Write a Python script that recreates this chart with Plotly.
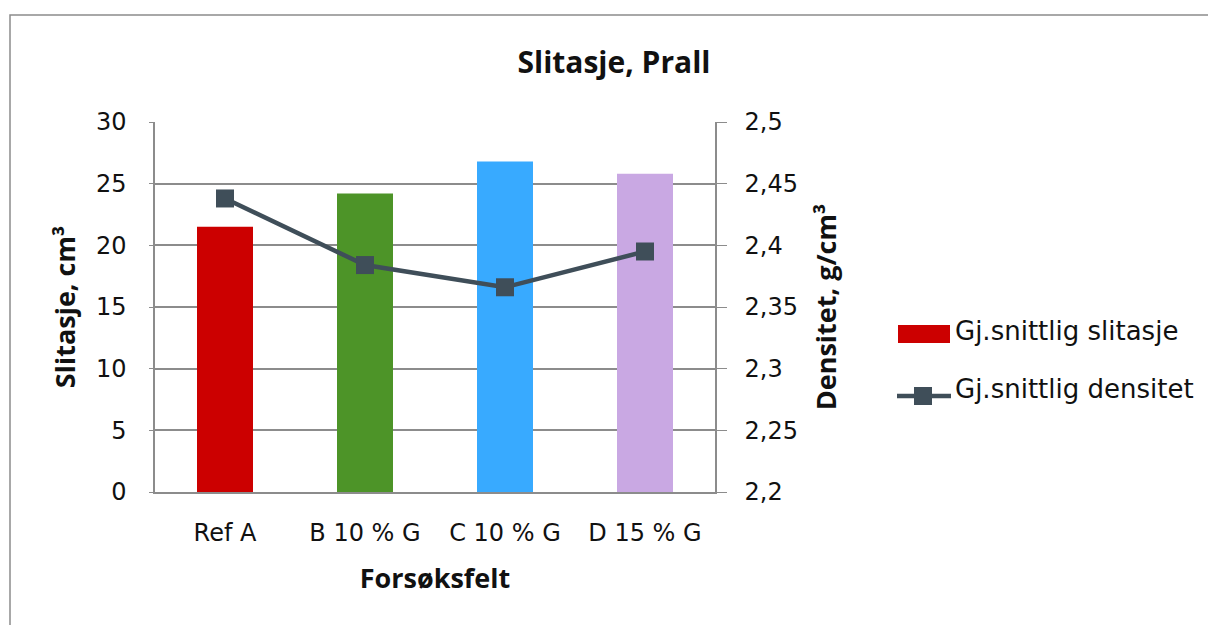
import plotly.graph_objects as go

# Test fields and measured values
felt = ["Ref A", "B 10 % G", "C 10 % G", "D 15 % G"]
slitasje = [21.5, 24.2, 26.8, 25.8]          # cm3
densitet = [2.438, 2.384, 2.366, 2.395]      # g/cm3
bar_colors = ["#cc0000", "#4d9428", "#38aaff", "#c9a8e3"]

left_ticks = [0, 5, 10, 15, 20, 25, 30]
right_ticks = [2.2, 2.25, 2.3, 2.35, 2.4, 2.45, 2.5]
right_ticktext = ["2,2", "2,25", "2,3", "2,35", "2,4", "2,45", "2,5"]

bar_name = "Gj.snittlig slitasje"
line_name = "Gj.snittlig densitet"

FONT = "DejaVu Sans"
TFONT = "Open Sans"
GRID = "#8c8c8c"
LINE = "#3f4e59"
TXT = "#111111"

W, H = 1208, 625
ML, MR, MT, MB = 155, 493, 122, 133
pw = W - ML - MR
ph = H - MT - MB


def px(x):
    return (x - ML) / pw


def py(y):
    return (H - MB - y) / ph


fig = go.Figure()

fig.add_trace(go.Bar(
    x=felt, y=slitasje, name=bar_name,
    marker=dict(color=bar_colors, line=dict(width=0)),
    yaxis="y", showlegend=False,
))

fig.add_trace(go.Scatter(
    x=felt, y=densitet, name=line_name,
    mode="lines+markers",
    line=dict(color=LINE, width=4.5),
    marker=dict(symbol="square", size=18, color=LINE),
    yaxis="y2", showlegend=False,
))

# Outer chart frame
fig.add_shape(type="rect", xref="paper", yref="paper",
              x0=px(10), x1=px(W + 20), y0=py(H + 20), y1=py(15),
              line=dict(color=GRID, width=1.5), layer="below")

# Legend: bar swatch, line with square marker, labels
fig.add_shape(type="rect", xref="paper", yref="paper",
              x0=px(898), x1=px(950), y0=py(343), y1=py(325),
              fillcolor=bar_colors[0], line=dict(width=0))
fig.add_shape(type="line", xref="paper", yref="paper",
              x0=px(897), x1=px(951), y0=py(396), y1=py(396),
              line=dict(color=LINE, width=4.5))
fig.add_shape(type="rect", xref="paper", yref="paper",
              x0=px(914), x1=px(932), y0=py(405), y1=py(387),
              fillcolor=LINE, line=dict(width=0))
for label, yc in [(bar_name, 331), (line_name, 389)]:
    fig.add_annotation(text=label, xref="paper", yref="paper",
                       x=px(953), y=py(yc), xanchor="left", yanchor="middle",
                       showarrow=False, font=dict(family=FONT, size=26, color=TXT))

fig.update_layout(
    width=W, height=H,
    margin=dict(l=ML, r=MR, t=MT, b=MB),
    paper_bgcolor="white", plot_bgcolor="white",
    font=dict(family=FONT, size=24, color=TXT),
    title=dict(text="<b>Slitasje, Prall</b>", x=614 / W, xanchor="center",
               y=1 - 62 / H, yanchor="middle",
               font=dict(family=TFONT, size=30, color=TXT)),
    bargap=0.6,
    showlegend=False,
    xaxis=dict(
        showline=True, linecolor=GRID, linewidth=1.5,
        showgrid=False, ticks="", tickfont=dict(family=FONT, size=24),
        ticklabelstandoff=18,
        title=dict(text="<b>Forsøksfelt</b>", standoff=24,
                   font=dict(family=TFONT, size=27)),
    ),
    yaxis=dict(
        range=[0, 30], tickvals=left_ticks, ticktext=[str(t) for t in left_ticks],
        showline=True, linecolor=GRID, linewidth=1.5,
        showgrid=True, gridcolor=GRID, gridwidth=1.5,
        ticks="outside", ticklen=4, tickcolor=GRID,
        ticklabelstandoff=18, tickfont=dict(family=FONT, size=24),
        title=dict(text="<b>Slitasje, cm³</b>", standoff=12,
                   font=dict(family=TFONT, size=27)),
        zeroline=False,
    ),
    yaxis2=dict(
        range=[2.2, 2.5], tickvals=right_ticks, ticktext=right_ticktext,
        overlaying="y", side="right",
        showline=True, linecolor=GRID, linewidth=1.5,
        showgrid=False, ticks="outside", ticklen=10, tickcolor=GRID,
        ticklabelstandoff=13, tickfont=dict(family=FONT, size=24),
        title=dict(text="<b>Densitet, g/cm³</b>", standoff=20,
                   font=dict(family=TFONT, size=27)),
        zeroline=False,
    ),
)

fig.write_html("out.html")
